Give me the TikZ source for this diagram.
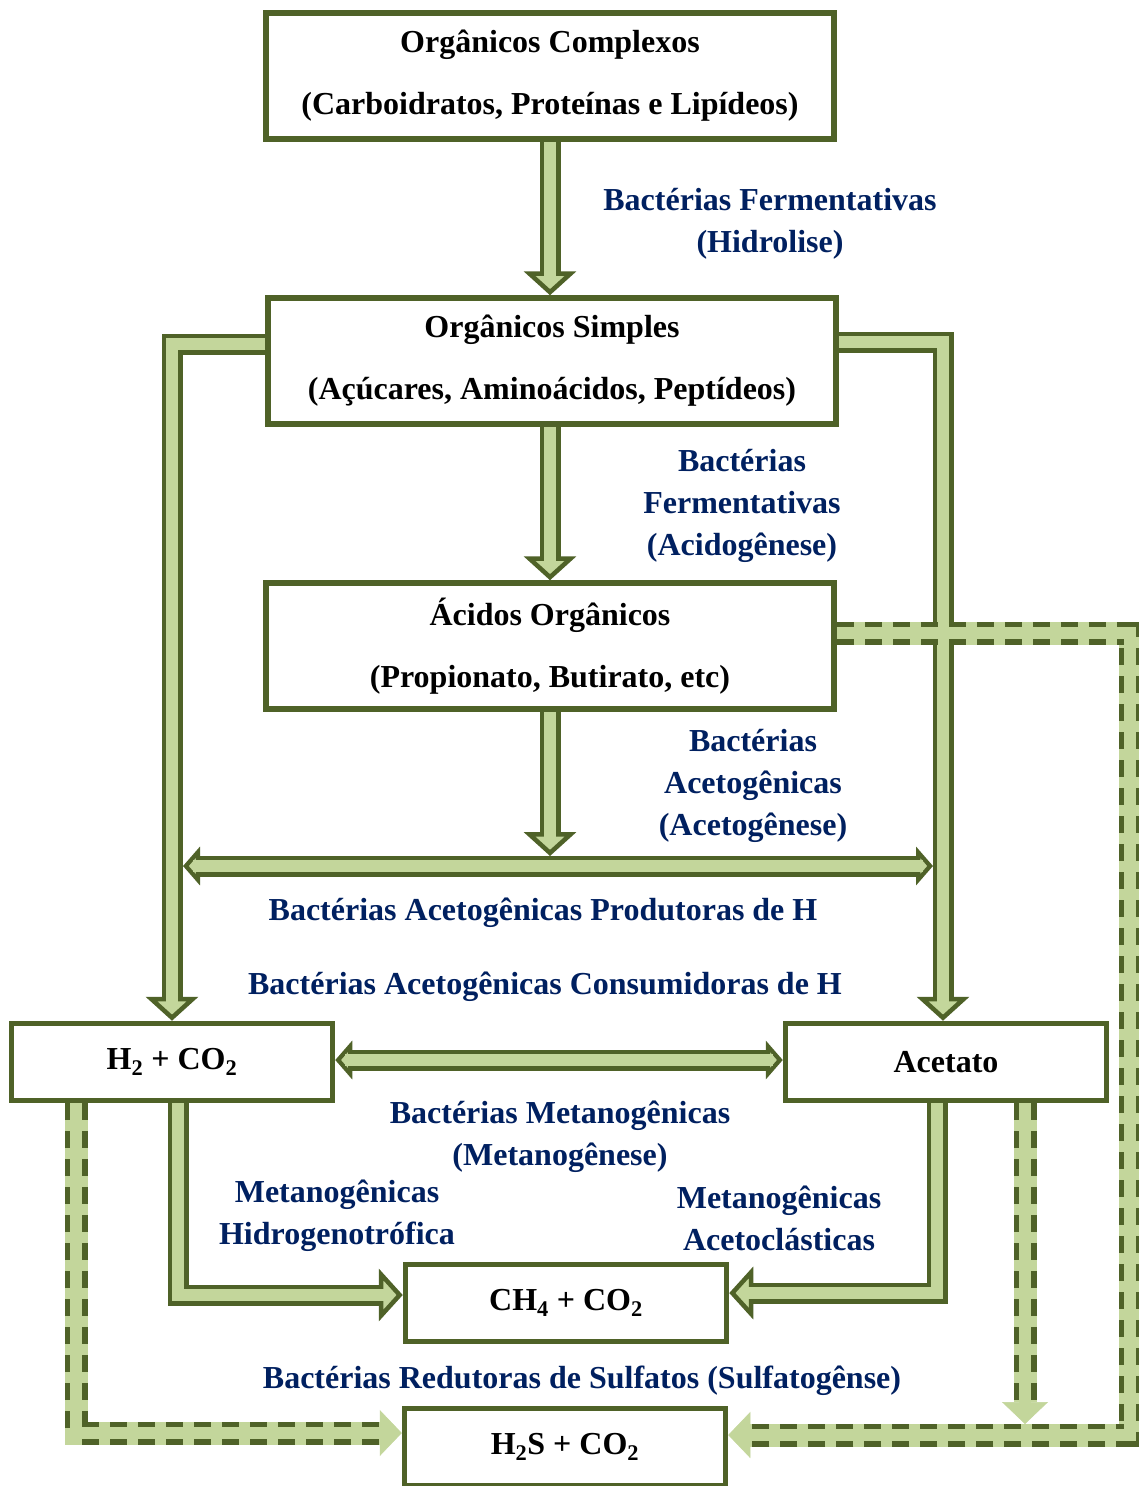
\documentclass[tikz,border=0pt]{standalone}
\usepackage{fontspec}
\setmainfont{Liberation Serif}
\usetikzlibrary{arrows.meta}

\definecolor{dkgreen}{RGB}{79,98,40}
\definecolor{ltgreen}{RGB}{195,214,155}
\definecolor{navy}{RGB}{0,32,96}

\tikzset{
	box/.style={draw=dkgreen, line width=5.5pt, fill=white, align=center, inner sep=0pt,
		font=\fontsize{32}{62}\selectfont\bfseries, minimum width=568pt, minimum height=126pt},
	smallbox/.style={box, minimum width=321pt, minimum height=77pt},
	lbl/.style={text=navy, align=center, inner sep=0pt, font=\fontsize{32}{42}\selectfont\bfseries},
	flowout/.style={draw=dkgreen, line width=21pt, line join=miter,
		>={Triangle[width=52pt,length=24pt,line width=4.5pt,fill=ltgreen]}},
	smallhead/.style={>={Triangle[width=38pt,length=17pt,line width=4.5pt,fill=ltgreen]}},
	flowin/.style={draw=ltgreen, line width=12pt, line join=miter},
	dflowbase/.style={draw=ltgreen, line width=23pt, line join=miter,
		-{Triangle[width=46pt,length=22pt,line width=0.5pt,fill=ltgreen]}},
	dflowdash/.style={draw=dkgreen, line width=23pt, line join=miter,
		dash pattern=on 17pt off 11pt, shorten >=20pt},
	dflowin/.style={draw=ltgreen, line width=12pt, line join=miter, shorten >=20pt}
}

% hollow green arrows (one head / two heads) and the dashed ones
\newcommand{\fatflow}[1]{\draw[flowout,->] #1; \draw[flowin,shorten >=14pt] #1;}
\newcommand{\fatflowboth}[1]{\draw[flowout,smallhead,<->] #1; \draw[flowin,shorten >=10pt,shorten <=10pt] #1;}
\newcommand{\dashflow}[1]{\draw[dflowbase] #1; \draw[dflowdash] #1; \draw[dflowin] #1;}

\begin{document}
\begin{tikzpicture}[x=1pt, y=-1pt]
	\fill[white] (0,0) rectangle (1138,1486);
	\useasboundingbox (0,0) rectangle (1138,1486);

	% boxes
	\node[box] (oc) at (550,76)  {Orgânicos Complexos\\(Carboidratos, Proteínas e Lipídeos)};
	\node[box] (os) at (552,361) {Orgânicos Simples\\(Açúcares, Aminoácidos, Peptídeos)};
	\node[box] (ao) at (550,646) {Ácidos Orgânicos\\(Propionato, Butirato, etc)};
	\node[smallbox] (h2) at (172,1062) {H\textsubscript{2} + CO\textsubscript{2}};
	\node[smallbox] (ac) at (946,1062) {Acetato};
	\node[smallbox] (ch) at (566,1303) {CH\textsubscript{4} + CO\textsubscript{2}};
	\node[smallbox] (hs) at (565,1447) {H\textsubscript{2}S + CO\textsubscript{2}};

	% free ends
	\coordinate (hl) at (183,866);
	\coordinate (hr) at (933,866);
	\coordinate (hm) at (550,856);
	\coordinate (sb) at (1025,1424);

	% solid flows
	\fatflow{(oc.south) -- (oc.south |- os.north)}
	\fatflow{(os.south -| ao.north) -- (ao.north)}
	\fatflow{(ao.south) -- (hm)}
	\fatflow{(os.west |- 0,344) -| (h2.north)}
	\fatflow{(os.east |- 0,342) -| (ac.north -| 943,0)}
	\fatflowboth{(hl) -- (hr)}
	\fatflowboth{(h2.east |- 0,1060) -- (ac.west |- 0,1060)}
	\fatflow{(h2.south -| 178,0) |- (ch.west |- 0,1295)}
	\fatflow{(ac.south -| 937,0) |- (ch.east |- 0,1293)}

	% dashed flows
	\dashflow{(h2.south -| 76,0) |- (hs.west |- 0,1433)}
	\dashflow{(ao.east |- 0,633) -| (1130,1435) -- (hs.east |- 0,1435)}
	\dashflow{(ac.south -| 1025,0) -- (sb)}

	% labels
	\node[lbl] (l1) at (770,224)  {Bactérias Fermentativas\\(Hidrolise)};
	\node[lbl] (l2) at (742,506)  {Bactérias\\Fermentativas\\(Acidogênese)};
	\node[lbl] (l3) at (753,786)  {Bactérias\\Acetogênicas\\(Acetogênese)};
	\node[lbl] (l4) at (543,913)  {Bactérias Acetogênicas Produtoras de H};
	\node[lbl] (l5) at (545,987)  {Bactérias Acetogênicas Consumidoras de H};
	\node[lbl] (l6) at (560,1137) {Bactérias Metanogênicas\\(Metanogênese)};
	\node[lbl] (l7) at (337,1216) {Metanogênicas\\Hidrogenotrófica};
	\node[lbl] (l8) at (779,1218) {Metanogênicas\\Acetoclásticas};
	\node[lbl] (l9) at (582,1381) {Bactérias Redutoras de Sulfatos (Sulfatogênse)};

\end{tikzpicture}
\end{document}
